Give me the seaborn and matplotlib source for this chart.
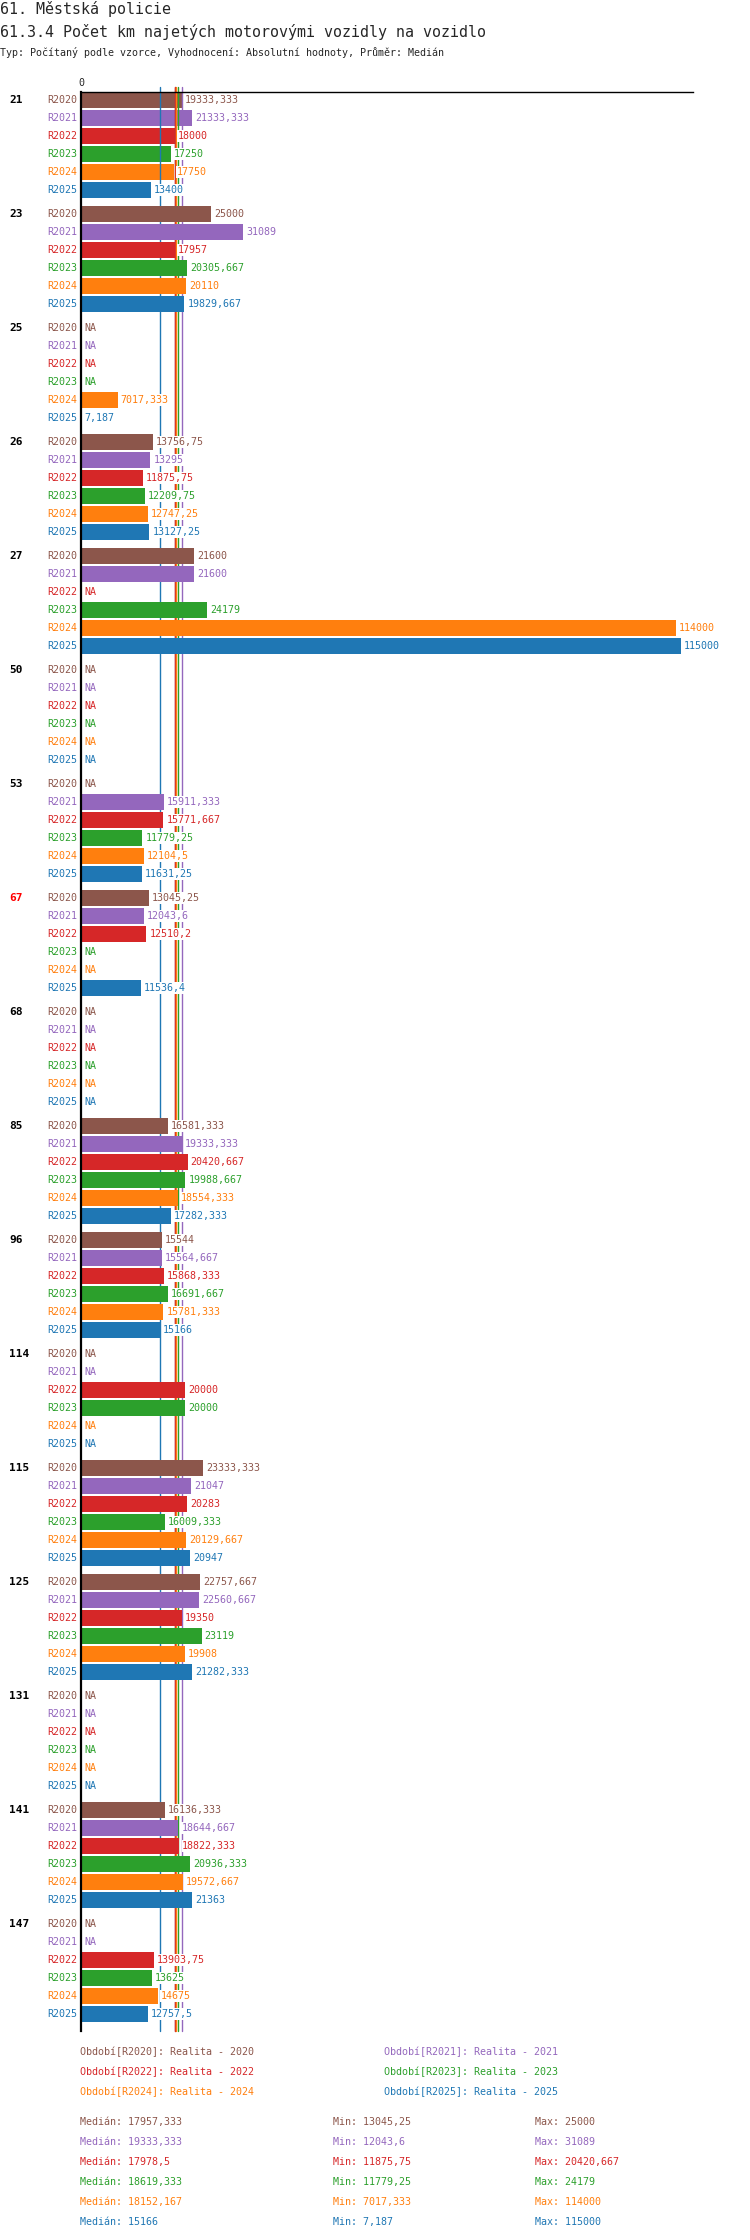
import numpy as np
import pandas as pd
import matplotlib
matplotlib.use("Agg")
import matplotlib.pyplot as plt
import seaborn as sns

nan = np.nan

groups = ["21", "23", "25", "26", "27", "50", "53", "67", "68", "85",
          "96", "114", "115", "125", "131", "141", "147"]
highlight = "67"
periods = ["R2020", "R2021", "R2022", "R2023", "R2024", "R2025"]
legend_names = ["Realita - 2020", "Realita - 2021", "Realita - 2022",
                "Realita - 2023", "Realita - 2024", "Realita - 2025"]
colors = ["#8c564b", "#9467bd", "#d62728", "#2ca02c", "#ff7f0e", "#1f77b4"]

r2020 = [19333.333, 25000, nan, 13756.75, 21600, nan, nan, 13045.25, nan,
         16581.333, 15544, nan, 23333.333, 22757.667, nan, 16136.333, nan]
r2021 = [21333.333, 31089, nan, 13295, 21600, nan, 15911.333, 12043.6, nan,
         19333.333, 15564.667, nan, 21047, 22560.667, nan, 18644.667, nan]
r2022 = [18000, 17957, nan, 11875.75, nan, nan, 15771.667, 12510.2, nan,
         20420.667, 15868.333, 20000, 20283, 19350, nan, 18822.333, 13903.75]
r2023 = [17250, 20305.667, nan, 12209.75, 24179, nan, 11779.25, nan, nan,
         19988.667, 16691.667, 20000, 16009.333, 23119, nan, 20936.333, 13625]
r2024 = [17750, 20110, 7017.333, 12747.25, 114000, nan, 12104.5, nan, nan,
         18554.333, 15781.333, nan, 20129.667, 19908, nan, 19572.667, 14675]
r2025 = [13400, 19829.667, 7.187, 13127.25, 115000, nan, 11631.25, 11536.4, nan,
         17282.333, 15166, nan, 20947, 21282.333, nan, 21363, 12757.5]
series = [r2020, r2021, r2022, r2023, r2024, r2025]

medians = [17957.333, 19333.333, 17978.5, 18619.333, 18152.167, 15166]
mins = [13045.25, 12043.6, 11875.75, 11779.25, 7017.333, 7.187]
maxs = [25000, 31089, 20420.667, 24179, 114000, 115000]


def fmt(v):
    s = f"{v:.3f}".rstrip("0").rstrip(".")
    return s.replace(".", ",")


rows = []
for p, vals in zip(periods, series):
    for g, v in zip(groups, vals):
        rows.append({"group": g, "period": p, "value": v})
df = pd.DataFrame(rows)
plot_df = df.dropna()

sns.set_style("white")
plt.rcParams["font.family"] = ["DejaVu Sans Mono", "DejaVu Sans"]

W, H = 750, 2240
fig = plt.figure(figsize=(W / 100, H / 100), dpi=100)

# axes box in pixels: left 81, right 693, top 92, bottom 2031
ax_w, ax_h = 612, 1939
ax = fig.add_axes([81 / W, 1 - 2031 / H, ax_w / W, ax_h / H])

w = 18 / 19
sns.barplot(data=plot_df, x="value", y="group", hue="period", order=groups,
            hue_order=periods, palette=colors, saturation=1, width=w,
            gap=2 / 18, orient="h", errorbar=None, legend=False,
            linewidth=0, dodge=True, ax=ax)

half = w * 5 / 12
ax.set_ylim(len(groups) - 1 + half + 17 / 114, -half - 8 / 114)
ax.set_xlim(0, 117300)

# first group bars sit under the median lines, the rest above
for patch in ax.patches:
    cy = patch.get_y() + patch.get_height() / 2
    patch.set_zorder(1.5 if cy < 0.5 else 2.5)

for m, c in zip(medians, colors):
    ax.axvline(m, ymin=0, ymax=1 + 5 / ax_h, color=c, lw=1, zorder=2,
               clip_on=False)

for s in ["bottom", "right"]:
    ax.spines[s].set_visible(False)
ax.spines["left"].set_linewidth(1.6)
ax.spines["top"].set_linewidth(1.0)
ax.spines["left"].set_color("black")
ax.spines["top"].set_color("black")
ax.spines["top"].set_zorder(5)
ax.set_xlabel("")
ax.set_ylabel("")
ax.set_yticks([])
ax.xaxis.tick_top()
ax.set_xticks([0])
ax.set_xticklabels(["0"])
ax.tick_params(axis="x", length=0, pad=3, labelsize=7.2)

yt = ax.get_yaxis_transform()
for h, (p, vals, c) in enumerate(zip(periods, series, colors)):
    for gi, v in enumerate(vals):
        y = gi - w / 2 + w / 6 * (h + 0.5)
        ax.text(-4 / ax_w, y, p, transform=yt, ha="right", va="center",
                color=c, fontsize=7.2)
        if np.isnan(v):
            ax.annotate("NA", (0, y), xytext=(2.2, 0), textcoords="offset points",
                        ha="left", va="center", color=c, fontsize=7.2, zorder=4)
        else:
            ax.annotate(fmt(v), (v, y), xytext=(2.2, 0), textcoords="offset points",
                        ha="left", va="center", color=c, fontsize=7.2, zorder=4,
                        bbox=dict(fc="white", ec="none", pad=0.4))

for gi, g in enumerate(groups):
    ax.text(-72 / ax_w, gi - half, g, transform=yt, ha="left", va="center",
            fontsize=8, fontweight="bold",
            color="#ff0000" if g == highlight else "black")

fig.text(0, 1 - 9 / H, "61. Městská policie", fontsize=10.8, va="center")
fig.text(0, 1 - 32 / H, "61.3.4 Počet km najetých motorovými vozidly na vozidlo",
         fontsize=10.8, va="center")
fig.text(0, 1 - 52 / H,
         "Typ: Počítaný podle vzorce, Vyhodnocení: Absolutní hodnoty, Průměr: Medián",
         fontsize=7.2, va="center")

# legend
for i, (p, name, c) in enumerate(zip(periods, legend_names, colors)):
    x = 80 if i % 2 == 0 else 384
    y = 2052 + 20 * (i // 2)
    fig.text(x / W, 1 - y / H, f"Období[{p}]: {name}", color=c,
             fontsize=7.2, va="center")

for i, c in enumerate(colors):
    y = 1 - (2122 + 20 * i) / H
    fig.text(80 / W, y, f"Medián: {fmt(medians[i])}", color=c, fontsize=7.2, va="center")
    fig.text(333 / W, y, f"Min: {fmt(mins[i])}", color=c, fontsize=7.2, va="center")
    fig.text(535 / W, y, f"Max: {fmt(maxs[i])}", color=c, fontsize=7.2, va="center")

fig.savefig("out.png", dpi=100)
